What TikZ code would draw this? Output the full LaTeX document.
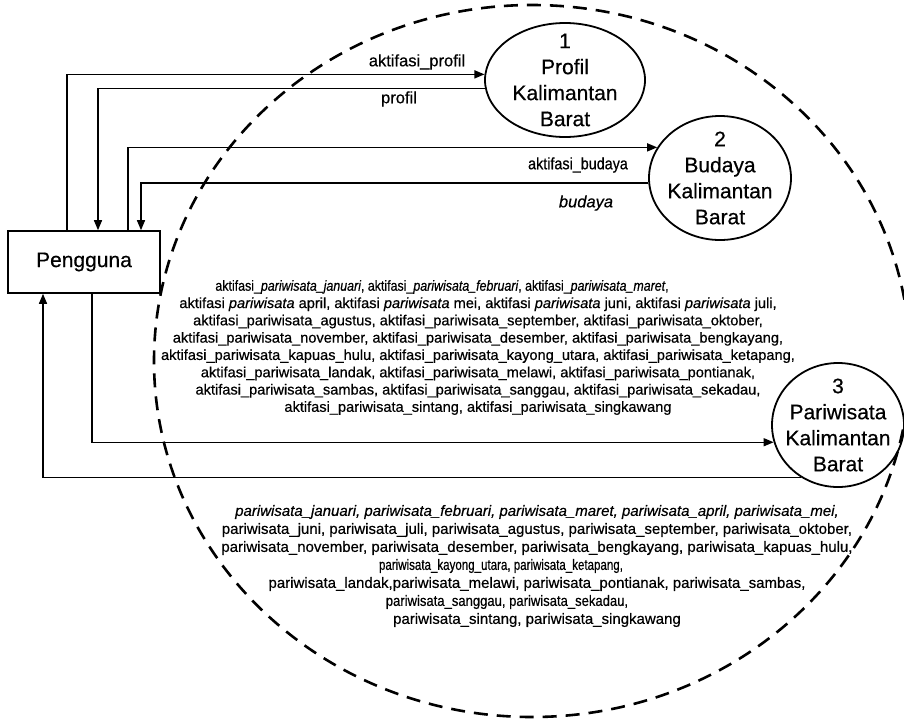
\documentclass[tikz,border=0pt]{standalone}
\usepackage{fontspec}
\setmainfont{Liberation Sans}[FakeBold=0.5]
\usetikzlibrary{arrows.meta,shapes.geometric}

% condensed setting for the tighter lines of the data-flow lists
\newcommand{\tight}[2]{{\addfontfeatures{FakeStretch=#1}#2}}
% keeps a line off-centre by the given amount of blank room at its end
\newcommand{\padright}[1]{\rule{#1}{0pt}}

\begin{document}
\begin{tikzpicture}[x=1pt,y=-1pt,
  flow/.style={line width=1.4pt, -{Triangle[length=10pt,width=8pt]}},
  proc/.style={draw, ellipse, line width=1.8pt, inner sep=0pt},
  proctext/.style={font=\fontsize{21}{26}\selectfont, align=center, inner sep=0pt},
  entity/.style={draw, rectangle, line width=1.6pt, minimum width=152pt,
    minimum height=62pt, inner sep=0pt, font=\fontsize{21}{25}\selectfont},
  flowlabel/.style={font=\fontsize{16.5}{20}\selectfont, inner sep=0pt},
  datablock/.style={align=center, inner sep=0pt},
  boundary/.style={line width=2.6pt, dash pattern=on 14pt off 9pt},
]
\useasboundingbox (0,0) rectangle (904,718);

% system boundary
\draw[boundary] (532,361) ellipse [x radius=378, y radius=356];

% external entity
\node[entity] (P) at (84,262) {Pengguna};

% processes
\node[proc, minimum width=160pt, minimum height=114pt,
  label={[proctext]center:{1\\Profil\\Kalimantan\\Barat}}] (e1) at (565,80) {};
\node[proc, minimum width=142pt, minimum height=124pt,
  label={[proctext]center:{2\\Budaya\\Kalimantan\\Barat}}] (e2) at (720,178) {};
\node[proc, minimum width=132pt, minimum height=124pt,
  label={[proctext]center:{3\\Pariwisata\\Kalimantan\\Barat}}] (e3) at (838,425) {};

% data flows
\draw[flow] ([xshift=-17pt]P.north) |- (e1.176);
\draw[flow] (e1.186) -| ([xshift=14pt]P.north);
\draw[flow] ([xshift=44pt]P.north) |- (e2.154);
\draw[flow] (e2.184) -| ([xshift=57pt]P.north);
\draw[flow] ([xshift=8pt]P.south) |- (e3.195);
\draw[flow] (e3.235) -| ([xshift=-41pt]P.south);

% flow labels
\node[flowlabel] (lprofa) at (417,62) {aktifasi\_profil};
\node[flowlabel] (lprof) at (399,99) {profil};
\node[flowlabel] (lbuda) at (578,165) {\tight{0.87}{aktifasi\_budaya}};
\node[flowlabel, font=\fontsize{16.5}{20}\selectfont\itshape] (lbud) at (586,203) {budaya};

\node[datablock, font=\fontsize{14.6}{17.3}\selectfont] (lpara) at (478,347.5) {%
\tight{0.85}{aktifasi\_\textit{pariwisata\_januari}, aktifasi\_\textit{pariwisata\_februari}, aktifasi\_\textit{pariwisata\_maret},}\padright{72pt}\\
aktifasi \textit{pariwisata} april, aktifasi \textit{pariwisata} mei, aktifasi \textit{pariwisata} juni, aktifasi \textit{pariwisata} juli,\\
aktifasi\_pariwisata\_agustus, aktifasi\_pariwisata\_september, aktifasi\_pariwisata\_oktober,\\
aktifasi\_pariwisata\_november, aktifasi\_pariwisata\_desember, aktifasi\_pariwisata\_bengkayang,\\
aktifasi\_pariwisata\_kapuas\_hulu, aktifasi\_pariwisata\_kayong\_utara, aktifasi\_pariwisata\_ketapang,\\
aktifasi\_pariwisata\_landak, aktifasi\_pariwisata\_melawi, aktifasi\_pariwisata\_pontianak,\\
aktifasi\_pariwisata\_sambas, aktifasi\_pariwisata\_sanggau, aktifasi\_pariwisata\_sekadau,\\
aktifasi\_pariwisata\_sintang, aktifasi\_pariwisata\_singkawang};

\node[datablock, font=\fontsize{15}{18}\selectfont] (lpar) at (537,566) {%
\textit{pariwisata\_januari, pariwisata\_februari, pariwisata\_maret, pariwisata\_april, pariwisata\_mei,}\\
pariwisata\_juni, pariwisata\_juli, pariwisata\_agustus, pariwisata\_september, pariwisata\_oktober,\\
pariwisata\_november, pariwisata\_desember, pariwisata\_bengkayang, pariwisata\_kapuas\_hulu,\\
\tight{0.77}{pariwisata\_kayong\_utara, pariwisata\_ketapang,}\padright{72pt}\\
pariwisata\_landak,pariwisata\_melawi, pariwisata\_pontianak, pariwisata\_sambas,\\
\tight{0.87}{pariwisata\_sanggau, pariwisata\_sekadau,}\padright{60pt}\\
pariwisata\_sintang, pariwisata\_singkawang};
\end{tikzpicture}
\end{document}
